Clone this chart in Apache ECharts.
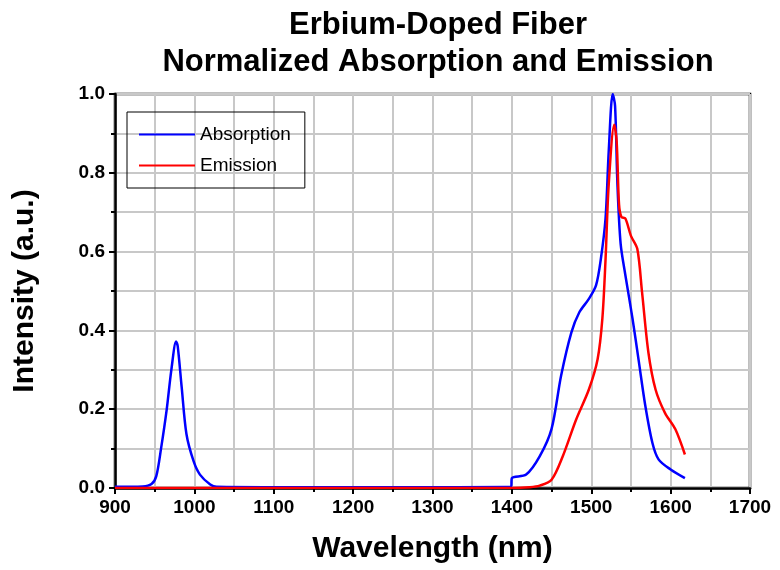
<!DOCTYPE html>
<html><head><meta charset="utf-8">
<script src="https://cdn.jsdelivr.net/npm/echarts@6/dist/echarts.min.js"></script>
<style>html,body{margin:0;background:#fff}#chart{width:780px;height:570px}</style>
</head><body><div id="chart"></div>
<script>
const chart = echarts.init(document.getElementById("chart"));

// absorption: [wavelength nm, intensity]
const absorption = [
  [900, 0.003], [935, 0.004], [946, 0.01], [952, 0.03], [958, 0.10], [965, 0.197],
  [971, 0.30], [977, 0.372], [979, 0.36], [984, 0.256], [990, 0.137], [999, 0.068],
  [1007, 0.034], [1020, 0.009], [1028, 0.003], [1100, 0.002], [1300, 0.002],
  [1399, 0.003], [1400, 0.025], [1418, 0.034], [1435, 0.08], [1450, 0.15],
  [1462, 0.285], [1475, 0.395], [1485, 0.446], [1497, 0.48], [1506, 0.514],
  [1512, 0.58], [1518, 0.684], [1522, 0.854], [1527, 1.0], [1530, 0.97],
  [1533, 0.77], [1537, 0.62], [1543, 0.54], [1552, 0.43], [1560, 0.32],
  [1568, 0.21], [1577, 0.115], [1585, 0.072], [1600, 0.047], [1618, 0.025]
];

// emission: [wavelength nm, intensity]
const emission = [
  [900, 0.0], [1400, 0.0], [1422, 0.002], [1435, 0.006], [1450, 0.021], [1464, 0.08],
  [1481, 0.174], [1497, 0.25], [1508, 0.327], [1514, 0.43], [1518, 0.58],
  [1522, 0.77], [1529, 0.922], [1532, 0.88], [1535, 0.72], [1538, 0.688],
  [1543, 0.684], [1550, 0.64], [1558, 0.607], [1564, 0.497], [1572, 0.344],
  [1581, 0.25], [1593, 0.19], [1606, 0.149], [1618, 0.085]
];

const FONT = "Arial, 'Liberation Sans', sans-serif";

chart.setOption({
  animation: false,
  title: {
    text: "Erbium-Doped Fiber\nNormalized Absorption and Emission",
    left: 433, top: 2, textAlign: "center",
    textStyle: { fontFamily: FONT, fontSize: 31, fontWeight: 900, color: "#000", lineHeight: 37 }
  },
  legend: {
    left: 127, top: 112, orient: "vertical",
    borderColor: "#000", borderWidth: 1, padding: [13, 14, 13, 12],
    itemWidth: 56, itemHeight: 2, itemGap: 12, icon: "rect",
    textStyle: { fontFamily: FONT, fontSize: 19, color: "#000" }
  },
  grid: { left: 115, right: 30, top: 94, bottom: 82, show: true, borderColor: "#000", borderWidth: 2.5 },
  xAxis: {
    type: "value", min: 900, max: 1700, interval: 100,
    name: "Wavelength (nm)", nameLocation: "middle", nameGap: 46,
    nameTextStyle: { fontFamily: FONT, fontSize: 30, fontWeight: 900, color: "#000" },
    axisLine: { lineStyle: { color: "#000", width: 2.5 } },
    axisTick: { length: 6, lineStyle: { width: 2 } },
    minorTick: { show: true, splitNumber: 2, length: 4, lineStyle: { color: "#000", width: 2 } },
    splitLine: { lineStyle: { color: "#c8c8c8", width: 2 } },
    minorSplitLine: { show: true, lineStyle: { color: "#c8c8c8", width: 2 } },
    axisLabel: { fontFamily: FONT, fontSize: 19, fontWeight: "bold", color: "#000", margin: 10,
      formatter: v => String(v) }
  },
  yAxis: {
    type: "value", min: 0, max: 1, interval: 0.2,
    name: "Intensity (a.u.)", nameLocation: "middle", nameGap: 75,
    nameTextStyle: { fontFamily: FONT, fontSize: 30, fontWeight: 900, color: "#000" },
    axisLine: { show: true, lineStyle: { color: "#000", width: 2.5 } },
    axisTick: { show: true, length: 6, lineStyle: { width: 2 } },
    minorTick: { show: true, splitNumber: 2, length: 4, lineStyle: { color: "#000", width: 2 } },
    splitLine: { lineStyle: { color: "#c8c8c8", width: 2 } },
    minorSplitLine: { show: true, lineStyle: { color: "#c8c8c8", width: 2 } },
    axisLabel: { fontFamily: FONT, fontSize: 19, fontWeight: "bold", color: "#000", margin: 10,
      formatter: v => v.toFixed(1) }
  },
  series: [
    { name: "Absorption", type: "line", data: absorption, showSymbol: false, smooth: 0.3,
      lineStyle: { color: "#0000ff", width: 2.5 }, itemStyle: { color: "#0000ff" } },
    { name: "Emission", type: "line", data: emission, showSymbol: false, smooth: 0.3,
      lineStyle: { color: "#ff0000", width: 2.5 }, itemStyle: { color: "#ff0000" } }
  ]
});
</script></body></html>
